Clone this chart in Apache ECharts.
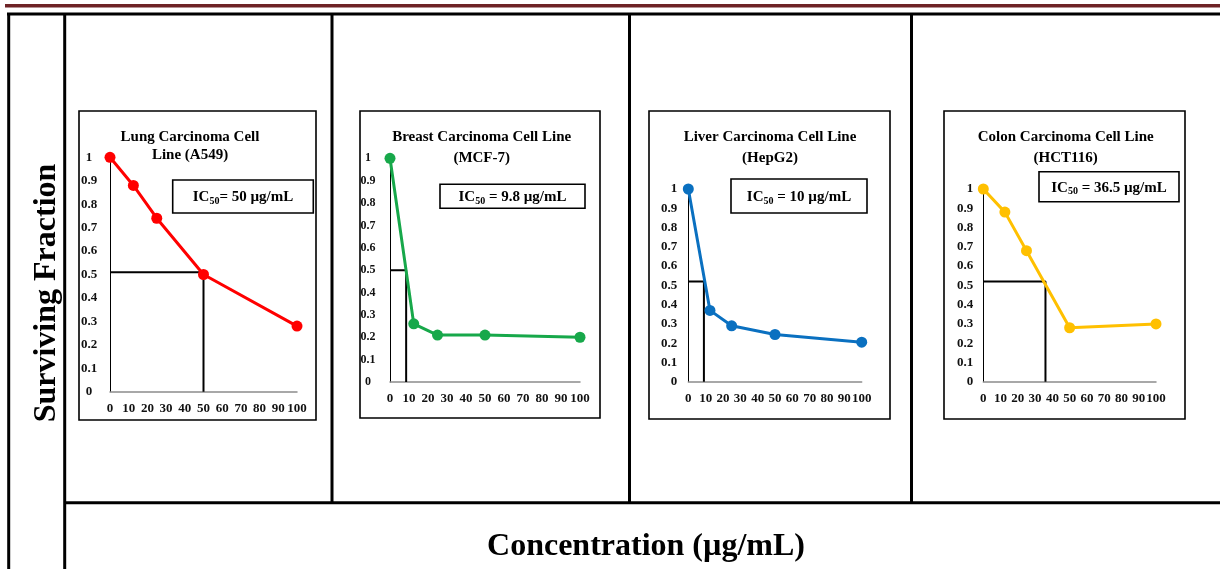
<!DOCTYPE html>
<html>
<head>
<meta charset="utf-8">
<script src="https://cdn.jsdelivr.net/npm/echarts@6/dist/echarts.min.js"></script>
<style>
html,body{margin:0;padding:0;background:#fff;}
#c{width:1220px;height:569px;}
</style>
</head>
<body>
<div id="c"></div>
<script>
// ---- data ----
const concentrations = [0, 12.5, 25, 50, 100];
const lungValues   = [1, 0.88, 0.74, 0.50, 0.28];
const breastValues = [1, 0.26, 0.21, 0.21, 0.20];
const liverValues  = [1, 0.37, 0.29, 0.245, 0.205];
const colonValues  = [1, 0.88, 0.68, 0.28, 0.30];
// IC50 guide corner (x, y)
const lungGuide   = [50, 0.51];
const breastGuide = [8.5, 0.50];
const liverGuide  = [9, 0.52];
const colonGuide  = [36, 0.52];
const titles = [
  ['Lung Carcinoma Cell', 'Line (A549)'],
  ['Breast Carcinoma Cell Line', '(MCF-7)'],
  ['Liver Carcinoma Cell Line', '(HepG2)'],
  ['Colon Carcinoma Cell Line', '(HCT116)']
];
const ic50Texts = [
  ['IC', '50', '= 50 µg/mL'],
  ['IC', '50', ' = 9.8 µg/mL'],
  ['IC', '50', ' = 10 µg/mL'],
  ['IC', '50', ' = 36.5 µg/mL']
];
const yTicks = [0, 0.1, 0.2, 0.3, 0.4, 0.5, 0.6, 0.7, 0.8, 0.9, 1];
const xTicks = [0, 10, 20, 30, 40, 50, 60, 70, 80, 90, 100];

const FONT = "'Liberation Serif', 'Times New Roman', serif";
const colors = ['#ff0000', '#17a84a', '#0a70c0', '#ffc000'];
const valueSets = [lungValues, breastValues, liverValues, colonValues];
const guides = [lungGuide, breastGuide, liverGuide, colonGuide];

// layout
const grids = [
  {left: 110,   top: 157.3, width: 187,   height: 234.4},
  {left: 390,   top: 158.3, width: 190,   height: 223.7},
  {left: 688.3, top: 189,   width: 173.4, height: 192.7},
  {left: 983.3, top: 189,   width: 172.7, height: 192.7}
];
const yLabelAlign = ['center', 'center', 'right', 'right'];
const yLabelMargin = [21, 22, 11, 10];
const yLabelSize = [13, 12, 13, 13];
const boxes = [
  [79, 111, 237, 309],
  [360, 111, 240, 307],
  [649, 111, 241, 308],
  [944, 111, 241, 308]
];
const icBoxes = [
  [172.7, 180, 140.6, 33],
  [440, 184.3, 145, 24],
  [731, 179, 136, 34],
  [1039, 171.7, 140, 30]
];
const titlePos = [
  [190, 137, 155],
  [481.7, 137.3, 158.3],
  [770, 137.3, 158.3],
  [1065.7, 137.3, 158.3]
];

const chart = echarts.init(document.getElementById('c'), null, {renderer: 'canvas'});

const xAxis = [], yAxis = [], series = [];
grids.forEach((g, i) => {
  xAxis.push({
    type: 'value', gridIndex: i, min: xTicks[0], max: xTicks[xTicks.length - 1], interval: xTicks[1] - xTicks[0],
    axisLine: {show: true, onZero: false, lineStyle: {color: '#8c8c8c', width: 1.5}},
    axisTick: {show: false}, splitLine: {show: false},
    axisLabel: {fontFamily: FONT, fontWeight: 'bold', fontSize: 13, color: '#111', margin: 10}
  });
  yAxis.push({
    type: 'value', gridIndex: i, min: yTicks[0], max: yTicks[yTicks.length - 1], interval: yTicks[1] - yTicks[0],
    axisLine: {show: true, onZero: false, lineStyle: {color: '#000', width: 1}},
    axisTick: {show: false}, splitLine: {show: false},
    axisLabel: {fontFamily: FONT, fontWeight: 'bold', fontSize: yLabelSize[i], color: '#111',
      margin: yLabelMargin[i], align: yLabelAlign[i]}
  });
  const gd = guides[i];
  series.push({
    type: 'line', xAxisIndex: i, yAxisIndex: i,
    data: [[0, gd[1]], [gd[0], gd[1]], [gd[0], 0]],
    symbol: 'none', lineStyle: {color: '#000', width: 2}, z: 2, silent: true, animation: false
  });
  series.push({
    type: 'line', xAxisIndex: i, yAxisIndex: i,
    data: concentrations.map((c, k) => [c, valueSets[i][k]]),
    symbol: 'circle', symbolSize: 11,
    itemStyle: {color: colors[i]}, lineStyle: {color: colors[i], width: 3},
    z: 3, animation: false
  });
});

const graphic = [];
// top maroon rule
graphic.push({type: 'rect', shape: {x: 5, y: 4, width: 1215, height: 3.4}, style: {fill: '#6e2326'}});
// table grid
const tl = (x1, y1, x2, y2) => graphic.push({type: 'line', shape: {x1, y1, x2, y2}, style: {stroke: '#000', lineWidth: 3}});
tl(7, 14, 1220, 14);
tl(8.7, 14, 8.7, 569);
tl(64.7, 14, 64.7, 569);
tl(332, 14, 332, 503);
tl(629.5, 14, 629.5, 503);
tl(911.5, 14, 911.5, 503);
tl(64.7, 502.8, 1220, 502.8);

boxes.forEach(b => graphic.push({type: 'rect', shape: {x: b[0], y: b[1], width: b[2], height: b[3]},
  style: {fill: 'none', stroke: '#000', lineWidth: 1.6}, z: 1}));
icBoxes.forEach((b, i) => {
  graphic.push({type: 'rect', shape: {x: b[0], y: b[1], width: b[2], height: b[3]},
    style: {fill: '#fff', stroke: '#000', lineWidth: 1.6}, z: 10});
  const t = ic50Texts[i];
  graphic.push({type: 'text', x: b[0] + b[2] / 2, y: b[1] + b[3] / 2 + 1, z: 11,
    style: {text: '{a|' + t[0] + '}{s|' + t[1] + '}{a|' + t[2] + '}',
      align: 'center', verticalAlign: 'middle',
      rich: {
        a: {fontFamily: FONT, fontWeight: 'bold', fontSize: 15, fill: '#000', lineHeight: 18, verticalAlign: 'middle'},
        s: {fontFamily: FONT, fontWeight: 'bold', fontSize: 10, fill: '#000', lineHeight: 18, verticalAlign: 'bottom', padding: [5, 0, 0, 0]}
      }}});
});
titlePos.forEach((p, i) => {
  titles[i].forEach((line, k) => {
    graphic.push({type: 'text', x: p[0], y: p[1 + k], z: 11,
      style: {text: line, align: 'center', verticalAlign: 'middle',
        fontFamily: FONT, fontWeight: 'bold', fontSize: 15, fill: '#000'}});
  });
});
graphic.push({type: 'text', x: 46.5, y: 293, rotation: Math.PI / 2, z: 11,
  style: {text: 'Surviving Fraction', align: 'center', verticalAlign: 'middle',
    fontFamily: FONT, fontWeight: 'bold', fontSize: 32, fill: '#000'}});
graphic.push({type: 'text', x: 646, y: 547, z: 11,
  style: {text: 'Concentration (µg/mL)', align: 'center', verticalAlign: 'middle',
    fontFamily: FONT, fontWeight: 'bold', fontSize: 32, fill: '#000'}});

chart.setOption({
  animation: false,
  grid: grids.map(g => Object.assign({containLabel: false}, g)),
  xAxis, yAxis, series, graphic
});
</script>
</body>
</html>
